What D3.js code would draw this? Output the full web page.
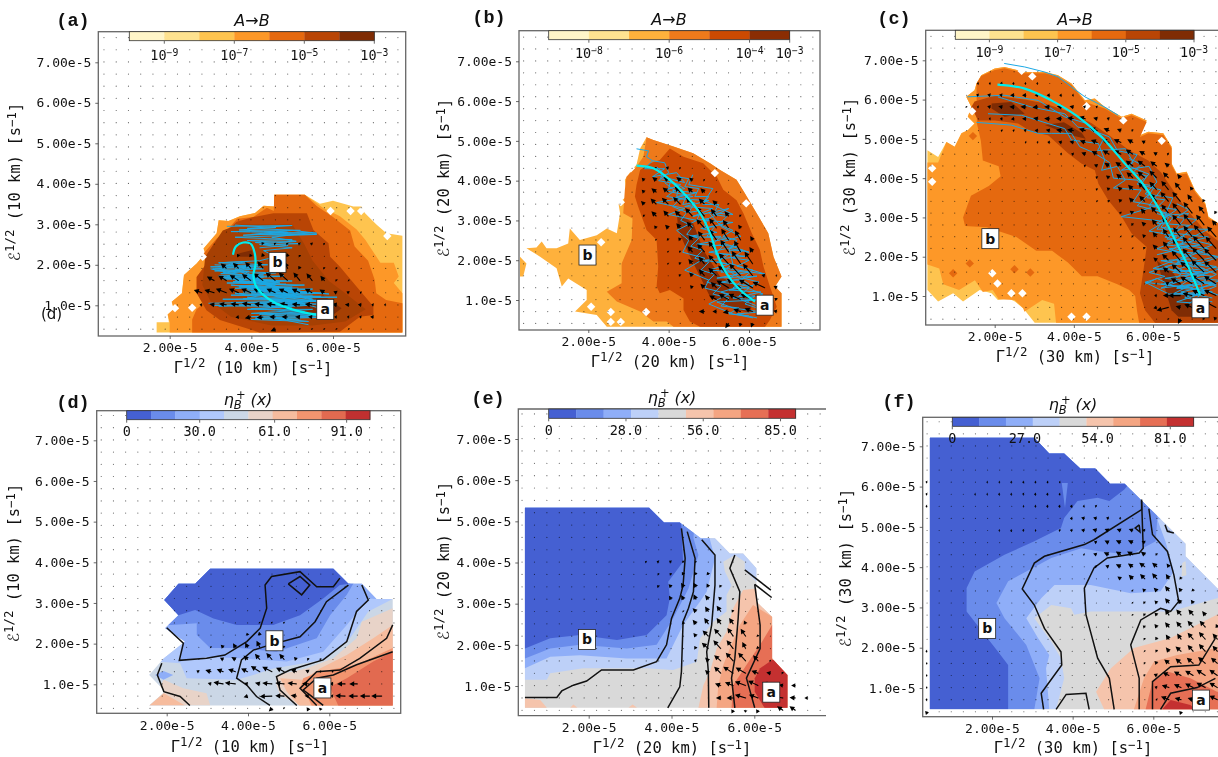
<!DOCTYPE html>
<html>
<head>
<meta charset="utf-8">
<script src="https://cdn.jsdelivr.net/npm/d3@7"></script>
<style>
html, body { margin: 0; background: #fff; overflow: hidden; }
svg { display: block; filter: blur(0.35px); }
text { font-family: "DejaVu Sans Mono", monospace; fill: #111; }
</style>
</head>
<body>
<script>
// all gamma / epsilon values are in units of 1e-5 s^-1
var xTicks = [2, 4, 6];
var xTickLabels = ['2.00e-5', '4.00e-5', '6.00e-5'];
var yTicks = [1, 2, 3, 4, 5, 6, 7];
var yTickLabels = ['1.0e-5', '2.00e-5', '3.00e-5', '4.00e-5', '5.00e-5', '6.00e-5', '7.00e-5'];

// quiver lattice
var gridGamma = [0.39,0.69,0.99,1.29,1.59,1.89,2.19,2.49,2.79,3.09,3.39,3.69,3.99,4.29,4.59,4.89,5.19,5.49,5.79,6.09,6.39,6.69,6.99,7.29,7.59];
var gridEps = [0.41,0.71,1.01,1.31,1.61,1.91,2.21,2.51,2.81,3.11,3.41,3.71,4.01,4.31,4.61,4.91,5.21,5.51,5.81,6.11,6.41,6.71,7.01,7.31,7.61];

var colorsRateA = ['#fff5c8', '#fee28f', '#fec44f', '#fd9828', '#e5690f', '#b94505', '#7f2c04'];
var colorsRateB = ['#fff5c8', '#fee391', '#feb13c', '#ee7a1b', '#cc4a02', '#8a2d03'];
var colorsEtaD = ['#4560d2', '#6a8ceb', '#8faef8', '#b0c8fc', '#cbd7e6', '#e8d3c8', '#f6bc9e', '#f3956f', '#e26a50', '#c03030'];
var colorsEtaE = ['#4560d2', '#6a8ceb', '#8faef8', '#bdd0f8', '#d9d9d9', '#f5c4ac', '#f4a582', '#e66f55', '#c43030'];
// panel (a) shows one more shade inside the core than its bar lists
var fillsA = colorsRateA.concat('#a64003');

// filled bands, painted in order: [colour index, polygon]
var bandsA = [
  [2, [[1.68,.33],[1.68,.58],[1.98,.58],[1.95,.77],[2.1,.91],[2.05,1.09],[2.3,1.3],[2.35,1.75],[2.66,2.03],[2.87,2.28],[2.83,2.4],[3.15,2.78],[3.2,3.1],[3.44,3.08],[3.72,3.2],[4.09,3.28],[4.3,3.46],[4.56,3.44],[4.56,3.73],[5.31,3.73],[5.68,3.51],[6,3.58],[6.5,3.44],[6.7,3.44],[6.78,3.28],[7.07,2.99],[7.31,2.78],[7.7,2.72],[7.7,.33]]],
  [3, [[2,.33],[2,.58],[1.95,.77],[2.1,.91],[2.05,1.09],[2.3,1.3],[2.35,1.75],[2.66,2.03],[2.87,2.28],[2.83,2.4],[3.15,2.78],[3.2,3.1],[3.44,3.08],[3.72,3.2],[4.09,3.28],[4.3,3.46],[4.56,3.44],[4.56,3.73],[5.31,3.73],[5.76,3.4],[6.17,3.2],[6.58,2.87],[6.79,2.62],[7,2.3],[7.16,2.05],[7.49,2.05],[7.61,1.71],[7.49,1.55],[7.7,1.3],[7.7,.33]]],
  [4, [[2.55,.33],[2.55,.65],[2.66,.9],[2.87,1.09],[2.66,1.3],[2.66,1.7],[2.9,2.03],[2.83,2.28],[3.15,2.65],[3.4,2.85],[3.65,3.14],[4.05,3.18],[4.38,3.41],[4.55,3.33],[4.56,3.73],[5.31,3.73],[5.6,3.45],[6,3.18],[6.42,2.85],[6.53,2.45],[6.86,2.1],[7.02,1.63],[7.06,1.3],[7.3,1.13],[7.7,1.05],[7.7,.33]]],
  [5, [[3.64,3.06],[4.05,3.18],[4.54,3.27],[5.36,3.27],[5.52,2.86],[5.89,2.53],[5.93,2.2],[6.17,1.95],[6.58,1.46],[6.99,.97],[6.99,.76],[6.66,.72],[6.17,.35],[4.2,.33],[3.23,.64],[2.9,.88],[2.66,1.3],[2.66,1.7],[3,2.16],[3.23,2.65]]],
  [7, [[2.87,2.2],[3.3,2.85],[3.7,3],[5,3],[5.3,2.5],[5.5,2.1],[5.9,1.6],[6.3,1.3],[6.8,.9],[6.3,.6],[5.5,.5],[4.5,.5],[3.5,.72],[3,1.1],[2.8,1.5]]],
  [6, [[4.54,.84],[5.19,1.09],[5.76,1.25],[6.21,.93],[6,.76],[5.03,.72]]],
  [6, [[3.68,2.28],[4.01,2.36],[4.05,2.2],[3.72,2.2]]]
];
var bandsB = [
  [2, [[2.46,.33],[2.21,.62],[1.67,.71],[1.96,1],[1.96,1.25],[1.5,1.54],[1.34,1.34],[1.21,1.8],[.8,2.09],[.46,2.3],[.71,2.32],[.84,2.47],[.96,2.3],[1.21,2.3],[1.5,2.42],[1.54,2.8],[1.79,2.51],[2.21,2.63],[2.46,2.8],[2.71,2.68],[2.79,3.18],[2.75,3.43],[2.95,3.6],[2.91,4.02],[3.08,4.27],[3.2,4.4],[3.29,4.81],[3.45,5.09],[3.62,5.02],[4.12,4.86],[4.61,4.69],[5.03,4.44],[5.28,4.27],[5.69,4.02],[5.9,3.68],[6.19,3.18],[6.48,2.68],[6.61,2.09],[6.81,1.59],[6.65,1.34],[6.81,1.17],[6.81,.33]]],
  [2, [[.3,2.09],[.46,1.92],[.38,1.59],[.3,1.59]]],
  [3, [[4.12,.33],[3.95,.46],[3.62,.46],[3.29,.71],[2.71,.96],[2.46,1.21],[2.83,1.42],[2.83,1.92],[3.08,2.51],[3.1,3.05],[2.87,3.18],[2.91,3.77],[2.95,4.1],[3.2,4.35],[3.37,4.6],[3.45,5.09],[3.62,5.02],[4.12,4.86],[4.61,4.69],[5.03,4.44],[5.28,4.27],[5.69,4.02],[5.9,3.68],[6.19,3.18],[6.48,2.68],[6.61,2.09],[6.81,1.59],[6.65,1.34],[6.81,1.17],[6.81,.33]]],
  [4, [[4.78,.33],[4.53,.46],[4.37,.75],[4.37,1.04],[4.03,1.25],[3.78,1.17],[3.7,1.34],[3.74,1.84],[3.7,2.51],[3.45,2.76],[3.24,3.35],[3.16,3.6],[3.2,3.89],[3.29,4.27],[3.54,4.44],[3.78,4.52],[4.03,4.81],[4.37,4.6],[4.86,4.44],[5.2,4.1],[5.36,3.77],[5.69,3.51],[5.86,3.18],[6.07,2.68],[6.27,2.26],[6.36,1.84],[6.52,1.34],[6.61,1.08],[6.69,.83],[6.52,.5],[6.4,.33]]],
  [5, [[4.2,3.22],[4.61,2.93],[4.86,2.26],[5.28,1.59],[5.78,1.33],[6.11,1.08],[6.03,.67],[5.45,.83],[5.03,1.08],[4.74,1.67],[4.45,2.26],[4.24,2.76]]]
];
var bandsC = [
  [2, [[.3,1.15],[.57,.86],[.95,1.07],[1.2,.86],[1.62,1.15],[1.92,1.07],[2.08,.9],[2.34,.94],[2.51,.86],[2.72,.69],[3.01,.32],[7.9,.32],[7.9,2.7],[7.65,2.85],[7.4,3.02],[7.32,3.36],[7.06,3.69],[6.85,4.16],[6.6,4.12],[6.47,4.37],[6.47,4.8],[6.26,5.14],[5.88,5.18],[5.67,5.09],[5.84,5.47],[5.46,5.64],[5.21,5.56],[4.78,5.81],[4.53,6.03],[4.28,5.98],[3.94,6.41],[3.6,6.62],[3.27,6.7],[2.76,6.7],[2.25,6.83],[2,6.79],[1.66,6.62],[1.54,6.41],[1.49,6.24],[1.28,6.07],[1.41,5.81],[1.32,5.56],[1.49,5.39],[1.32,5.22],[1.16,5.14],[.99,4.8],[.78,4.92],[.57,4.54],[.3,4.71]]],
  [3, [[.3,1.8],[.6,1.7],[.7,1.3],[1.1,1.15],[1.5,1.4],[1.7,1.1],[1.95,1.15],[2.1,.92],[2.5,.9],[2.72,.69],[2.75,.6],[3.2,.9],[3.5,.8],[3.55,.32],[7.9,.32],[7.9,2.7],[7.65,2.85],[7.4,3.02],[7.32,3.36],[7.06,3.69],[6.85,4.16],[6.6,4.12],[6.47,4.37],[6.47,4.8],[6.26,5.14],[5.88,5.18],[5.67,5.09],[5.84,5.47],[5.46,5.64],[5.21,5.56],[4.78,5.81],[4.53,6.03],[4.28,5.98],[3.94,6.41],[3.6,6.62],[3.27,6.7],[2.76,6.7],[2.25,6.83],[2,6.79],[1.66,6.62],[1.54,6.41],[1.49,6.24],[1.28,6.07],[1.41,5.81],[1.32,5.56],[1.49,5.39],[1.32,5.22],[1.16,5.14],[.99,4.8],[.78,4.92],[.57,4.4],[.3,4.4]]],
  [4, [[5.65,.32],[5.6,.6],[5.55,1],[5.4,1.15],[5.1,1.3],[4.6,1.5],[4.2,1.5],[3.85,1.85],[3.45,2.15],[3.05,2.15],[2.55,2.5],[1.8,2.75],[1.25,2.78],[1.2,3],[1.4,3.55],[1.85,3.8],[2.15,4.05],[2.1,4.3],[1.7,4.45],[1.65,4.95],[1.55,5.4],[1.54,6.41],[1.66,6.6],[2,6.75],[2.25,6.8],[2.76,6.67],[3.27,6.67],[3.6,6.58],[3.94,6.37],[4.28,5.94],[4.78,5.77],[5.21,5.52],[5.46,5.6],[5.84,5.43],[5.67,5.05],[5.88,5.14],[6.26,5.1],[6.47,4.76],[6.47,4.33],[6.6,4.08],[6.85,4.12],[7.06,3.65],[7.32,3.32],[7.4,2.98],[7.9,2.7],[7.9,.32]]],
  [5, [[1.49,5.95],[2,6.1],[2.76,6],[3.27,5.9],[3.77,5.73],[4.45,5.4],[4.95,5.05],[5.38,4.72],[5.88,4.45],[6.2,4.15],[6.47,3.75],[6.81,3.25],[7.32,2.65],[7.65,2.4],[7.9,2.2],[7.9,.32],[6.05,.32],[5.8,.64],[5.67,1.07],[5.76,1.66],[5.84,2.25],[5.46,2.59],[5.21,3.02],[4.87,3.44],[4.62,3.86],[4.53,4.2],[4.19,4.37],[3.86,4.63],[3.35,5.09],[2.93,5.18],[2.59,5.39],[2,5.47],[1.58,5.47],[1.41,5.81]]],
  [6, [[6.39,.9],[6.1,1.9],[6.5,1.6],[6.89,1.07],[7.15,.47],[6.64,.47],[6.47,.64]]],
  [6, [[3.27,5.35],[3.75,5.42],[4.2,5.15],[4.3,5],[3.9,5.1]]],
  [6, [[1.92,5.9],[2.42,5.94],[2.76,5.64],[2.25,5.56],[1.92,5.77]]]
];
var bandsD = [
  [4, [[1,.2],[1,4.2],[8,4.2],[8,.2]]],
  [5, [[1.93,1.11],[2.41,.9],[2.98,.78],[3.07,.48],[1.5,.48]]],
  [6, [[1.57,.48],[1.93,.78],[2.45,.48]]],
  [3, [[1.57,1.23],[1.75,1.56],[2.33,1.52],[2.49,1.15],[3.72,1.11],[4.13,1.23],[4.62,1.39],[5.85,1.6],[6.51,2.13],[6.96,2.79],[7.56,3.1],[7.7,3.2],[7.7,4],[1.4,4],[1.4,1.23]]],
  [2, [[1.96,2.38],[2.41,2.01],[2.33,1.56],[2.98,1.68],[3.8,1.64],[4.95,1.56],[5.85,1.8],[6.43,2.46],[6.96,3.11],[7.16,3.1],[7.2,4],[1.5,4],[1.5,2.38]]],
  [1, [[2.12,2.46],[2.74,2.5],[2.74,2.21],[3.07,1.89],[3.8,1.89],[4.7,1.8],[5.69,2.13],[6.02,2.7],[6.43,3.2],[6.59,3.47],[7,4],[1.5,4],[1.5,2.46]]],
  [0, [[2.29,2.7],[2.7,2.83],[3.15,2.62],[3.72,2.46],[4.62,2.46],[5.28,2.7],[5.85,3.11],[6.26,3.44],[6.51,3.47],[6.8,4],[1.5,4],[1.5,2.7]]],
  [2, [[1.71,1.23],[1.92,1.33],[2.16,1.23],[1.92,1.11]]],
  [5, [[4.7,1.23],[5.44,1.39],[6.1,1.64],[6.67,2.13],[6.8,2.54],[7.56,2.87],[7.7,2.9],[7.7,.3],[4.9,.3],[5.28,.48],[4.79,.74],[4.7,.98]]],
  [6, [[4.79,1.15],[5.36,1.11],[5.77,1.39],[6.43,1.72],[7.08,2.13],[7.56,2.46],[7.7,2.5],[7.7,.3],[5.4,.3],[4.95,.82]]],
  [7, [[5.28,.9],[5.36,1.15],[5.77,1.31],[6.67,1.48],[7.56,1.89],[7.7,1.95],[7.7,.3],[5.65,.3],[5.44,.74]]],
  [8, [[6.02,.94],[6.43,1.15],[7.08,1.56],[7.56,1.8],[7.7,1.85],[7.7,.3],[6.3,.3],[6.1,.74]]]
];
var bandsE = [
  [4, [[.2,.2],[.2,5.6],[7.2,5.6],[7.2,.2]]],
  [3, [[.46,1.15],[.99,1.15],[1.07,1.31],[1.87,1.43],[3.4,1.43],[4.04,1.39],[4.61,1.59],[4.69,2.16],[5.01,2.56],[5.33,2.81],[5.33,3.21],[5.45,3.45],[5.29,3.78],[5.25,4.02],[5.53,4.18],[5.77,4.02],[5.77,3.82],[6.05,3.53],[6.3,3.53],[6.3,5.6],[.3,5.6],[.3,1.15]]],
  [2, [[.46,1.43],[1.07,1.71],[1.79,1.75],[2.92,1.67],[3.88,1.67],[4.28,2.48],[4.69,3.05],[4.85,3.29],[5.05,4.1],[4.93,4.55],[4.9,5.6],[.3,5.6],[.3,1.43]]],
  [1, [[.46,1.67],[1.07,1.91],[1.79,2],[2.92,1.91],[3.64,2],[4.04,2.64],[4.41,3.37],[4.65,4.18],[4.53,4.59],[4.6,5.6],[.3,5.6],[.3,1.67]]],
  [0, [[.46,1.91],[1.07,2.16],[1.79,2.24],[2.68,2.12],[3.4,2.24],[3.88,2.72],[3.96,3.13],[3.92,3.53],[4.28,4.02],[4.24,4.87],[4.2,5.07],[4.2,5.6],[.3,5.6],[.3,1.91]]],
  [5, [[.46,.7],[.83,.66],[.99,.47],[.3,.3],[.3,.7]]],
  [5, [[1.55,.47],[1.63,.55],[1.73,.47]]],
  [5, [[2.96,.47],[3.06,.55],[3.17,.47]]],
  [5, [[4.65,.47],[4.77,1.02],[4.93,1.35],[5.09,1.91],[5.33,2.32],[5.49,2.89],[5.73,3.33],[6.05,3.37],[7,3.37],[7,.3],[4.65,.3]]],
  [6, [[5.09,.47],[5.13,1.02],[5.25,1.51],[5.41,1.91],[5.65,2.48],[5.97,2.97],[6.43,2.68],[7,2.68],[7,.3],[5.09,.3]]],
  [7, [[5.45,.47],[5.49,1.02],[5.81,1.51],[6.14,2],[6.43,2.48],[7,2.48],[7,.3],[5.45,.3]]],
  [8, [[6.01,1.19],[6.14,1.43],[6.43,1.63],[7,1.63],[7,.3],[6.35,.3],[6.01,.86]]]
];
var bandsF = [
  [4, [[.2,.2],[.2,7.5],[8,7.5],[8,.2]]],
  [3, [[3.59,.47],[3.79,1.24],[3.71,1.74],[3.47,2.15],[3.05,2.73],[3.47,3.06],[3.96,2.98],[4.04,2.82],[4.45,2.9],[5.44,2.9],[6.43,2.9],[7.58,3.23],[7.9,3.4],[7.9,7.5],[.3,7.5],[.3,.47]]],
  [4, [[6.7,3.77],[6.72,4.1],[6.8,4.15],[6.82,3.8]]],
  [2, [[3.42,.47],[3.34,1.49],[3.42,1.82],[3.14,2.24],[2.85,2.73],[3.22,3.23],[3.55,3.56],[4.45,3.56],[5.44,3.35],[6.18,3.4],[6.51,3.89],[6.3,4.64],[6.1,5.18],[6.3,5.2],[6.3,7.5],[.3,7.5],[.3,.47]]],
  [1, [[3.05,.47],[3.18,1.24],[2.85,2.07],[2.31,2.73],[2.11,3.11],[2.4,3.65],[3.47,4.23],[4.21,4.47],[4.7,4.39],[5.44,4.31],[6.06,4.64],[6.1,5.22],[6.1,7.5],[.3,7.5],[.3,.47]]],
  [0, [[2.4,.47],[2.4,1.57],[2.15,1.9],[1.37,2.9],[1.37,3.48],[1.57,3.89],[2.31,4.31],[3.05,4.64],[3.71,4.97],[3.79,5.22],[4.12,5.64],[4.62,5.72],[4.91,5.64],[5.28,5.93],[5.4,6.07],[5.4,7.5],[.3,7.5],[.3,.47]]],
  [1, [[3.73,6.09],[3.88,6.09],[3.81,5.47]]],
  [5, [[4.58,.91],[4.95,1.49],[5.52,1.99],[6.43,2.24],[7.58,2.82],[7.9,2.9],[7.9,.3],[4.7,.3],[4.78,.47]]],
  [6, [[5.52,.47],[5.77,1.24],[6.02,1.66],[6.59,1.82],[7.58,1.99],[7.9,2],[7.9,.3],[5.52,.3]]],
  [7, [[5.81,.47],[5.98,1.16],[6.35,1.41],[6.92,1.24],[7.58,.91],[7.9,.85],[7.9,.3],[5.81,.3]]],
  [8, [[6.22,.47],[6.43,.7],[6.92,.58],[7.05,.47],[7.05,.3],[6.22,.3]]]
];

// outline of the region that has eta values
var hullD = [[1.57,.48],[1.96,.82],[1.57,1.23],[1.93,1.64],[2.45,2.05],[1.96,2.38],[2.29,2.7],[1.94,3.07],[2.29,3.47],[2.7,3.47],[3.07,3.84],[6.1,3.84],[6.47,3.47],[6.8,3.47],[7.16,3.1],[7.56,3.1],[7.56,.48]];
var hullE = [[.46,.47],[.46,5.33],[3.46,5.33],[3.82,4.97],[4.2,4.97],[4.71,4.59],[5.05,4.59],[5.41,4.22],[5.73,4.22],[6.05,3.86],[6.05,3.05],[6.43,2.68],[6.43,1.67],[6.8,1.27],[6.8,.47]];
var hullF = [[.46,.47],[.46,7.21],[3.05,7.21],[3.42,6.82],[3.79,6.82],[4.19,6.45],[4.56,6.45],[4.93,6.07],[5.29,6.07],[6.8,4.58],[6.8,4.27],[7.58,3.48],[7.9,3.26],[7.9,.47]];

// black contour lines
var linesD = [
  [[2,2.39],[2.41,2.01],[2.31,1.59],[2.98,1.64],[3.43,1.72],[3.97,2.05],[4.3,2.38],[4.46,2.87],[4.42,3.44],[4.58,3.65],[5.28,3.77],[5.69,3.4],[6.1,3.4],[6.26,3.61]],
  [[4.99,3.47],[5.28,3.65],[5.52,3.44],[5.32,3.2],[4.99,3.47]],
  [[6.47,3.44],[5.93,3.03],[5.65,2.54],[5.28,2.17],[4.54,1.97],[4.13,1.84],[3.84,1.6],[3.72,1.15],[3.97,.98],[4.21,.7],[4.54,.48]],
  [[6.8,3.44],[6.96,3.07],[6.67,2.79],[6.43,2.05],[5.85,1.6],[5.03,1.35],[4.7,1.19],[4.79,.86],[5.2,.48]],
  [[1.88,1.52],[1.77,1.23],[1.93,.82],[2.33,.7],[2.57,.48]],
  [[7.56,2.46],[7.41,2.13],[6.75,1.64],[6.26,1.35],[5.69,1.31],[5.28,.9],[5.69,.48]],
  [[7.56,1.8],[6.67,1.48],[6.1,1.23],[5.69,1.15],[5.36,.86],[5.52,.74],[5.85,.48]]
];
var linesE = [
  [[.46,.72],[1.23,.72],[1.35,.88],[1.63,1.02],[1.95,1.12],[2.31,1.39],[3.08,1.39],[3.64,1.59],[3.88,2],[4,2.64],[4.2,3.13],[4.28,3.45],[4.33,4.1],[4.24,4.83]],
  [[3.91,.47],[4.2,.98],[4.24,1.35],[4.28,2.56],[4.41,2.89],[4.53,3.29],[4.57,4.1],[4.38,4.75]],
  [[4.73,4.55],[5.05,4.18],[5.05,3.45],[4.97,2.48],[4.85,1.83],[4.89,1.35],[4.9,.47]],
  [[5.53,4.18],[5.41,3.86],[5.65,3.29],[5.61,2.64],[5.53,1.67],[5.45,1.19],[5.53,.47]],
  [[6.01,3.47],[6.14,2.48],[6.14,1.91],[5.81,1.19],[6.01,.47]],
  [[5.77,3.82],[6.4,3.33]],
  [[6.01,3.47],[6.42,3.15]]
];
var linesF = [
  [[5.71,5.68],[5.71,5.43],[4.53,4.68],[4.29,4.56],[3.3,4.27],[3.05,4.1],[2.75,3.46],[3.05,3.06],[3.3,2.48],[3.71,1.9],[3.73,1.57],[3.22,.87],[3.28,.47]],
  [[5.71,5.65],[5.75,4.47],[5.65,4.35],[4.86,4.23],[4.53,3.98],[4.29,3.48],[4.33,2.82],[4.62,1.74],[4.91,1.24],[5.03,.47]],
  [[5.89,5.45],[5.98,4.81],[6.35,4.39],[6.51,3.81],[6.63,3.15],[6.43,2.9],[6.18,2.98],[5.69,2.69],[5.44,2.07],[5.65,1.24],[5.65,.47]],
  [[3.59,.47],[3.84,.84],[4.33,.87],[4.41,.47]],
  [[5.98,.47],[5.98,1.16],[6.43,1.53],[7.13,1.57],[7.54,2.24]],
  [[6.18,.47],[6.43,.87],[7.09,1.01],[7.54,1.24]],
  [[5.65,5.05],[5.55,4.97],[5.67,4.87],[5.65,5.05]],
  [[6.29,5.05],[6.35,4.89],[6.51,4.85]]
];

// thin sampled paths
var pathsA = [
  [[3.4,2.95],[5,2.97],[3.9,2.9],[5.2,2.85],[3.5,2.82],[5.6,2.78],[5,2.85],[4,2.75],[5.6,2.75],[3.6,2.68],[5,2.62],[3.9,2.6],[5.2,2.52],[4.2,2.5],[5,2.42],[4.3,2.35],[4.6,2.2],[4.2,2.1],[3.2,2.05],[4.4,2],[3,1.95],[4.3,1.9],[3.1,1.85],[4.6,1.8],[3.2,1.72],[4.8,1.72],[3.3,1.65],[5,1.6],[3.4,1.55],[5.3,1.5],[3.6,1.42],[5.5,1.4],[3.8,1.33],[5.8,1.3],[3.5,1.25],[6.1,1.2],[3.3,1.15],[5.9,1.1]],
  [[2.95,1.05],[5.6,1.1],[3.2,.98],[5.4,1],[3.9,.9],[5.5,.9],[4,.8],[5.8,.8],[4,.72],[5.6,.7],[4,.65],[5.4,.6],[4.6,.68],[5.4,.52]],
  [[3,1.9],[4.7,1.55],[3.3,1.7],[5.2,1.35],[3.5,1.5],[5.9,1.28],[4,1.4],[5.2,1.2],[3.6,1.3],[4.8,1.1],[3.9,1.2],[5.4,1.05],[4.2,1.05]],
  [[3.1,2],[4,1.95],[3.3,1.8],[4.3,1.7],[3.6,1.6],[4.6,1.55],[3.7,1.45],[5,1.45],[4,1.3],[5.5,1.25]],
  [[3.2,2.05],[3.9,2.08],[3.3,1.98],[4.2,1.95],[3.05,1.9],[3.95,1.84],[3.25,1.78],[4.3,1.75],[3.4,1.7],[4.55,1.62],[3.55,1.58],[4.85,1.52],[3.7,1.48],[5.15,1.42],[3.9,1.38],[5.45,1.33],[4.1,1.26],[5.7,1.22],[3.8,1.16],[5.95,1.12],[3.5,1.07],[5.6,1.03],[3.1,1],[5,.96],[4,.92],[5.3,.84],[4.2,.78],[5.7,.74],[4.1,.68],[5.2,.64]],
  [[3.5,2.02],[4.35,1.55],[3.6,1.9],[4.8,1.35],[3.8,1.75],[5.1,1.3],[4.05,1.6],[5.5,1.15],[4.3,1.4],[5.85,1.05],[4.5,1.25],[5.6,.95]],
  [[3.6,2.98],[4.6,2.92],[3.7,2.86],[4.9,2.8],[3.8,2.73],[5.5,2.8],[4.5,2.68],[5.1,2.58],[4.1,2.55],[4.9,2.48],[4.2,2.42]]
];
var pathsB = [
  [[3.2,4.8],[3.5,4.75],[3.45,4.6],[3.6,4.5],[3.4,4.3],[3.9,4.3],[3.6,4.1],[4.2,4.2],[4.4,3.95],[3.85,4.1],[4.4,3.8],[4.1,3.75],[4.7,3.7],[4.1,3.55],[5,3.5],[4.4,3.35],[5.1,3.3],[4.6,3.1],[5.5,3.3],[4.9,3],[5.6,2.95],[4.8,2.8],[5.2,2.7],[4.5,2.6],[5.5,2.55],[4.7,2.4],[5.7,2.35],[5,2.2],[5.9,2.1],[4.9,2],[5.5,1.9],[5,1.75],[6,1.7],[5.2,1.55],[6.2,1.6],[5.3,1.45],[6.1,1.35],[5.5,1.25],[6.3,1.2],[5.6,1.05],[6.2,1],[5.2,.95],[5.6,.8],[6.3,.7],[5.7,.65],[6.2,.55]],
  [[3.6,4.5],[3.9,4.45],[4,4.2],[3.75,4],[4.3,3.9],[3.9,3.75],[4.6,3.6],[3.7,3.45],[4.4,3.3],[4,3.15],[4.7,3],[4.2,2.75],[4.5,2.5],[4.35,2.2],[4.9,2.05],[4.4,1.75],[5,1.5],[4.9,1.3],[5.5,1.15],[5,.9],[5.6,.65],[6.1,.55]],
  [[4.6,4.15],[4.5,3.9],[5.1,3.8],[4.9,3.5],[5.6,3.15],[5,3.2],[5.3,2.85],[5.8,2.6],[5.3,2.45],[6,2.2],[5.5,2.3],[5.6,1.9],[6.4,1.65],[5.4,1.8],[6,1.4],[5.3,1.2],[6.2,.85]],
  [[3.7,4.35],[3.85,4.2],[3.8,4.05],[4.05,4],[4,3.8],[4.25,3.85],[4.2,3.6],[4.45,3.65],[4.35,3.4],[4.65,3.45],[4.5,3.2],[4.8,3.25],[4.7,3],[5,3.05],[4.85,2.8],[5.15,2.85],[4.95,2.6],[5.3,2.6],[5.05,2.35],[5.4,2.4],[5.15,2.15],[5.5,2.15],[5.2,1.95],[5.6,1.9],[5.3,1.7],[5.75,1.7],[5.45,1.5],[5.85,1.5],[5.6,1.3],[6,1.3],[5.75,1.1],[6.15,1.1],[5.9,.9],[6.2,.8]],
  [[4.2,4.1],[4.5,4.05],[4.4,3.85],[4.75,3.8],[4.65,3.6],[5,3.6],[4.85,3.4],[5.25,3.4],[5.1,3.15],[5.45,3.1],[5.25,2.9],[5.6,2.75],[5.35,2.6],[5.7,2.5],[5.5,2.25],[5.85,2.25],[5.6,2.05],[6,2],[5.7,1.85],[6.1,1.75],[5.85,1.55],[6.25,1.45],[5.95,1.3],[6.35,1.15],[6,1.05]],
  [[3.9,3.95],[4.15,3.75],[3.95,3.6],[4.3,3.55],[4.1,3.35],[4.45,3.2],[4.3,3],[4.6,2.85],[4.45,2.65],[4.75,2.55],[4.55,2.35],[4.85,2.25],[4.65,2.05],[5,1.95],[4.8,1.75],[5.15,1.65],[4.95,1.45],[5.3,1.35],[5.1,1.15],[5.5,1.05],[5.3,.85],[5.75,.8],[5.5,.65],[6,.6]]
];
var pathsC = [
  [[2.24,6.92],[2.76,6.83],[3.27,6.7],[3.6,6.58],[3.94,6.32],[4.28,6.07],[4.78,5.81],[5.12,5.6]],
  [[1.31,6.07],[2.25,6.11],[3.1,5.98],[3.77,5.56],[4.3,5.4],[4.5,5.2],[4.9,5.05],[5.1,4.7],[5.6,4.6],[5.4,4.3],[5.9,4.1],[5.6,3.85],[6.2,3.7],[5.9,3.3],[6.6,3.2],[6.1,2.85],[6.9,2.8],[6.3,2.5],[7.2,2.3],[6.4,2.2],[7.1,1.95],[6.2,1.9],[7.3,1.7],[6.5,1.6],[7.5,1.5],[6.2,1.3],[7,1.2],[5.8,1.35],[6.4,1.05],[7.2,1.05],[6.6,.85],[7.4,.8]],
  [[1.83,5.64],[2.68,5.6],[3.35,5.39],[3.77,5.26],[3.94,4.97],[4.62,4.88],[4.78,4.46],[4.7,4.2],[5.1,4.3],[5.3,3.95],[5,3.75],[5.7,3.7],[5.5,3.4],[6.1,3.3],[5.2,3.02],[6.3,2.9],[5.9,2.65],[6.8,2.5],[6.1,2.2],[6.9,2.05],[6,1.7],[7.3,1.6],[6.3,1.45],[7.6,1.3],[6.7,1.1],[7.5,.95]],
  [[1.54,5.42],[2.42,5.35],[3.1,5.14],[3.43,5.14],[3.94,5.14],[4.15,4.8],[4.5,4.65],[4.9,4.4],[5,4],[5.6,3.95],[5.9,3.6],[5.6,3.3],[6.4,3.1],[6.1,2.7],[7,2.7],[6.5,2.35],[7.4,2.2],[6.6,1.9],[7.6,1.75],[6.8,1.5],[7.6,1.25],[7,1]],
  [[2.08,6.07],[2.93,5.81],[3.77,5.64],[4.1,5.3],[4.4,5.25],[4.75,5],[4.6,4.7],[5.3,4.75],[5.5,4.4],[5.2,4.2],[5.9,4.3],[6.1,3.9],[5.8,3.6],[6.5,3.5],[6.3,3.05],[6.9,3.1],[6.5,2.6],[7.4,2.5],[6.6,2.3],[7.6,2],[6.9,1.85],[7.6,1.55],[6.95,1.2],[7.5,1.1],[6.8,1]],
  [[5.8,1.35],[6.3,1.5],[5.9,1.6],[6.5,1.8],[7,1.5],[6.2,1.2],[7,1.3],[6.5,1.05],[7.3,1.1],[6.9,.8]],
  [[6.1,3.1],[6.4,3],[6.2,2.75],[6.6,2.7],[6.35,2.45],[6.8,2.4],[6.45,2.15],[7,2.1],[6.6,1.85],[7.2,1.85],[6.5,1.65],[7.4,1.6],[6.7,1.4],[7.5,1.35],[6.6,1.2],[7.3,1.15],[6.8,.95],[7.5,.85]],
  [[6.6,3.35],[6.9,3.2],[6.6,3],[7.1,2.95],[6.8,2.7],[7.4,2.7],[6.9,2.45],[7.5,2.3],[7,2.1],[7.7,2],[7.1,1.8],[7.7,1.7],[7,1.45],[7.7,1.4],[7.2,1.2],[7.7,1]],
  [[5.4,4.5],[5.7,4.35],[5.5,4.15],[5.85,4.05],[5.7,3.85],[6.05,3.8],[5.85,3.5],[6.3,3.45],[6.05,3.2],[6.5,3],[6.2,2.6],[6.6,2.5],[6.3,2.3],[6.9,2.25],[6.1,2.05]],
  [[5.8,1.3],[6.1,1.45],[6.4,1.3],[6.7,1.55],[6.3,1.75],[6.9,1.85],[7.1,1.55],[6.6,1.2],[7.2,1.35],[7.3,1.05],[6.7,1.05]]
];
// thick mean path
var meanA = [[3.55,2.25],[3.62,2.45],[3.8,2.55],[3.98,2.52],[4.08,2.3],[4.1,2],[4.05,1.75],[4.1,1.5],[4.3,1.25],[4.6,1.05],[5,.9],[5.4,.8],[5.75,.74]];
var meanB = [[3.2,4.38],[3.62,4.31],[4.03,4.02],[4.45,3.6],[4.78,3.18],[5.03,2.68],[5.2,2.17],[5.44,1.67],[5.78,1.25],[6.15,.96]];
var meanC = [[2.07,6.38],[2.76,6.28],[3.43,5.98],[4.11,5.56],[4.7,5.05],[5.29,4.37],[5.8,3.78],[6.22,3.1],[6.56,2.42],[6.89,1.75],[7.19,1.03]];

// holes in the sampled region
var holesA = [[2.55,.94],[2.81,2.2],[5.94,3.33],[6.43,3.33],[6.69,3.33],[7.33,2.71],[2.13,.93]];
var holesB = [[2.32,2.45],[2.81,3.46],[2.07,.83],[2.56,.7],[2.81,.45],[2.56,.45],[3.44,.7],[3.06,4.31],[5.15,4.19],[5.93,3.43]];
var holesC = [[.42,4.25],[.42,3.91],[1.43,5.7],[1.94,1.58],[2.07,1.32],[2.42,1.07],[2.7,1.07],[3.94,.47],[4.32,.47],[6.22,4.95],[5.25,5.47],[2.95,6.59],[2.68,6.73],[4.32,5.83]];
var specksC = [[1.45,5.07],[2.17,4.97],[.95,1.58],[1.37,1.83],[2.5,1.68],[2.9,1.6]];

// quiver rows: [row, first column, u, v, u, v, ...] with u, v in 0.01e-5
var arrowsA = [
  [0,14,-12,-5,-1,1,-2,2,-2,2,-2,2,-2,2,-2,2],
  [1,11,-8,-1,-15,-3,-16,-2,-15,1,-15,1,-12,1,-10,1,-8,1,-6,1,-5,1,-5,1,-8,1],
  [2,8,-6,1,-12,2,-18,3,-20,3,-22,4,-22,3,-22,3,-20,3,-20,2,-18,2,-15,2,-12,2,-10,1,-8,1,-5,1,-4,1],
  [3,8,-20,7,-24,7,-26,10,-24,10,-24,10,-24,10,-22,10,-22,10,-20,10,-18,10,-12,8,-8,4,-6,3,-3,2],
  [4,9,-18,10,-20,12,-22,14,-22,16,-24,18,-24,20,-22,20,-16,20,-14,18,-10,12,-3,3,-2,2],
  [5,10,-14,12,-14,14,-14,16,-14,18,-14,20,-8,16,-4,6,0,0,-3,3,-3,2],
  [6,11,-4,6,-3,6,-3,8,-2,10,-2,8,-3,3],
  [7,11,-3,3,-4,5,-4,5,-4,3,-4,3,-5,3,-5,3,-3,2],
  [8,13,-2,1,-2,1,-2,1]
];
var arrowsB = [
  [0,17,-8,-12,-2,-8,-4,-10],
  [1,15,-14,0,-10,0,-14,-3,-18,6,-20,8,-20,6,-8,2],
  [2,16,-18,10,-24,14,-30,14,-30,14,-24,10,-6,4],
  [3,14,-6,6,-10,10,-14,14,-30,18,-34,22,-34,20,-30,14,-8,4],
  [4,13,-4,4,-8,8,-14,16,-20,20,-26,26,-28,30,-24,30,-8,2,-3,1],
  [5,12,-2,2,-4,4,-10,12,-14,18,-20,22,-24,26,-22,32,-20,30],
  [6,11,-1,1,-2,2,-3,3,-12,14,-18,20,-20,26,-20,30,-16,28,-8,12],
  [7,11,-2,2,-3,4,-5,6,-10,12,-16,22,-18,26,-18,28,-14,24,-6,10],
  [8,11,-5,6,-8,8,-10,12,-14,16,-20,22,-18,24,-14,20,-6,8],
  [9,10,-3,3,-12,12,-12,14,-14,14,-18,20,-20,22,-14,18,-10,12,-3,3],
  [10,10,-8,8,-14,14,-16,16,-18,18,-16,16,-14,14,-10,10,-2,2],
  [11,10,-6,6,-12,10,-14,12,-14,14,-12,12,-10,10,-2,2],
  [12,10,-6,6,-10,8,-12,8,-10,8,-8,6,-3,2],
  [13,10,-2,1,-4,2,-6,3,-3,2]
];
var arrowsC = [
  [0,20,-2,2,-6,-12,0,0,-4,4,-6,6],
  [1,19,-8,-2,-30,-8,-12,3,-20,8,-24,12,-28,14],
  [2,19,-6,0,-14,0,-30,0,-24,6,-30,14,-30,14],
  [3,18,-2,0,-3,1,-8,4,-24,14,-30,18,-32,22,-30,20],
  [4,18,-3,2,-6,5,-14,12,-22,20,-30,26,-32,30,-30,28],
  [5,17,-2,2,-4,3,-8,7,-16,16,-22,24,-24,30,-30,32,-30,30],
  [6,17,-2,2,-4,4,-10,10,-14,18,-20,24,-24,30,-28,32,-26,30],
  [7,16,-2,2,-3,3,-6,6,-10,12,-14,20,-18,24,-22,28,-26,30,-22,26],
  [8,16,-3,2,-4,4,-8,8,-12,14,-16,20,-20,26,-22,28,-20,26,-10,12],
  [9,15,-1,1,-4,3,-8,6,-10,12,-14,16,-18,22,-20,26,-22,28,-14,18,-4,6],
  [10,14,-2,2,-4,3,-6,6,-10,10,-14,14,-16,20,-20,24,-20,24,-12,18,-4,6],
  [11,14,-4,2,-6,5,-8,8,-12,12,-16,18,-18,20,-18,22,-14,18,-6,8],
  [12,13,-2,1,-4,3,-8,6,-12,10,-16,14,-18,16,-18,18,-14,14,-8,10],
  [13,13,-4,2,-8,4,-12,8,-14,10,-18,14,-18,14,-16,12,-10,8],
  [14,8,-2,0,-2,0,-2,1,-4,1,-6,2,-10,4,-14,8,-16,10,-18,10,-18,12,-14,8,-8,5,-4,2],
  [15,8,-3,1,-3,1,-6,1,-8,2,-10,2,-14,5,-16,6,-18,8,-18,8,-14,8,-8,4,-2,1],
  [16,6,-4,1,-4,1,-6,2,-8,1,-10,2,-14,2,-16,3,-16,5,-18,6,-14,6,-10,4,-4,2],
  [17,5,-4,0,-6,0,-8,-1,-10,0,-12,2,-14,1,-14,1,-16,3,-16,5,-10,3,-6,2],
  [18,3,-2,2,-4,1,-8,2,-10,2,-12,1,-14,1,-14,-1,-14,1,-12,2,-10,2,-6,2,-4,2],
  [19,4,-6,2,-8,2,-8,1,-10,0,-10,0,-8,0,-8,0,-6,0,-4,0],
  [20,4,-4,0,-4,0,-6,0,-5,0,-4,0,-4,0,-2,0]
];
var arrowsD = [
  [0,12,-1,1,-1,1,-8,-8,-2,2,-1,1,-4,-8,-2,-6,-1,1],
  [1,12,-10,-3,0,0,-30,-1,-22,1,-14,2,-10,1,0,0,-6,1,-24,1,-22,0,-24,0,-26,0],
  [2,9,-8,2,-24,4,-26,3,-8,2,-12,3,-24,2,-22,2,-22,2,-16,1,-18,2,-10,1,-20,0,-20,0,-2,1,-2,1,-2,1],
  [3,8,-6,3,-14,4,-16,6,-18,6,-16,8,-22,14,-24,12,-20,10,-14,6,-8,4,-3,1,-3,2,-2,1],
  [4,10,-8,4,-10,6,-10,10,-12,14,-14,16,-12,14,-6,6,-4,3,-3,2,-2,1],
  [5,9,-2,2,-6,6,-6,10,-6,12,-8,16,-6,10,-4,4,-1,1],
  [6,12,-2,6,-2,8,-2,8,-1,2],
  [7,13,-2,2,-2,2,-2,2],
  [8,11,-1,1,-1,1]
];
var arrowsE = [
  [0,17,-4,-8,-1,-6,-4,-8,0,0,-14,10,-14,10],
  [1,16,-12,0,-16,0,-26,8,-22,8,0,0,-22,4,-14,1,-8,0],
  [2,16,-14,5,-20,8,-26,10,-24,12,-20,8,-10,2,-10,0],
  [3,15,-8,8,-16,16,-24,16,-24,14,-16,6,-10,2,-3,3],
  [4,14,-4,2,-8,8,-16,14,-18,20,-18,20,-12,14,-2,2,-1,1],
  [5,14,-4,6,-16,14,-18,20,-16,20,-8,16,-2,6,-1,1],
  [6,14,-6,8,-14,14,-16,18,-14,20,-12,18,-2,4],
  [7,13,-2,6,-8,10,-10,14,-10,14,-10,14,-4,8,-1,2],
  [8,13,-2,2,-8,8,-8,12,-10,14,-4,4,-1,2],
  [9,12,-5,8,-6,10,-6,12,-8,10,-6,6,-2,2],
  [10,11,-4,4,-6,6,-6,10,-6,10,-4,8,-3,5],
  [11,10,-2,1,-3,2,-4,3,-4,6,-4,6,-3,6,-1,2],
  [12,9,-1,1,-3,2,-5,2,-5,3,-3,3,-2,2,-1,1],
  [13,10,-1,1,-2,0,-2,1,-1,1]
];
var arrowsF = [
  [0,0,-3,-8],[0,21,-3,-8],
  [1,0,-4,0],[2,0,-3,0],[3,0,-3,0],[4,0,-3,0],[5,0,-4,0],[6,0,-1,1],
  [1,19,-3,2,-20,8,-16,4,-14,4,-24,10,-20,10],
  [2,17,-1,1,-2,1,-6,2,-18,6,-18,8,-20,10,-22,12,-20,12],
  [3,18,-4,2,-8,4,-16,8,-18,10,-20,12,-22,14,-20,14],
  [4,18,-3,2,-6,6,-12,10,-14,12,-16,14,-18,16,-16,14],
  [5,18,-2,2,-4,4,-8,10,-14,12,-14,16,-16,18,-12,14],
  [6,18,-3,3,-4,6,-8,12,-10,14,-14,16,-16,18,-12,14],
  [7,18,-5,4,-6,8,-10,12,-12,14,-14,16,-14,16,-4,8],
  [8,17,-2,2,-4,4,-6,6,-10,14,-12,14,-12,14,-8,10],
  [9,16,-1,1,-2,2,-4,4,-6,6,-10,12,-10,10,-6,8,-2,4],
  [10,17,-3,2,-6,6,-8,8,-10,12,-6,8,-2,6],
  [11,14,-2,1,0,0,-8,6,-10,10,-12,12,-12,14,-8,12,-3,6],
  [12,14,-5,2,-8,3,-12,6,-12,8,-14,10,-12,10,-6,8,-2,2],
  [13,13,-3,1,-8,3,-12,6,-12,8,-14,8,-10,8,-4,3],
  [14,14,-6,3,-10,5,-12,6,-12,6,-8,4],
  [15,6,-3,0,-4,-1,-4,1,-3,0,-2,0,-4,1,-6,1,-8,2,-10,3,-10,4,-10,4,-10,4,-6,2],
  [16,12,-6,0,-8,2,-8,2,-6,2,-4,1],
  [17,0,-4,0],[17,8,-3,0,-4,0,-5,0,-5,0,-6,0,-4,0,-4,2],
  [18,0,-4,1,-2,0,-2,0,-2,0,-3,0,-3,0,-4,0,-4,0,-4,1,-5,0,-5,0,-4,0],
  [19,0,-4,1],[19,3,-2,0,-2,0,-3,0,-3,0,-4,0,-4,-1,-4,0,-4,0,-3,0,-2,0]
];

var svg = d3.select('body').append('svg').attr('width', 1218).attr('height', 757);
var defs = svg.append('defs');

function drawPanel(p) {
  var x = d3.scaleLinear().domain([2, 6]).range(p.xr);
  var y = d3.scaleLinear().domain([1, 7]).range(p.yr);
  var w = p.frame[2] - p.frame[0];
  var h = p.frame[3] - p.frame[1];
  var line = d3.line().x(function(d) { return x(d[0]); }).y(function(d) { return y(d[1]); });
  var closed = d3.line().x(function(d) { return x(d[0]); }).y(function(d) { return y(d[1]); }).curve(d3.curveLinearClosed);

  var g = svg.append('g');
  defs.append('clipPath').attr('id', 'frame-' + p.id)
      .append('rect').attr('x', p.frame[0]).attr('y', p.frame[1]).attr('width', w).attr('height', h);

  var plot = g.append('g').attr('clip-path', 'url(#frame-' + p.id + ')');

  var fill = plot.append('g');
  if (p.hull) {
    defs.append('clipPath').attr('id', 'hull-' + p.id).append('path').attr('d', closed(p.hull));
    fill.attr('clip-path', 'url(#hull-' + p.id + ')');
  }
  var fills = p.fills || p.colors;
  fill.selectAll('path').data(p.bands).enter().append('path')
      .attr('d', function(d) { return closed(d[1]); })
      .attr('fill', function(d) { return fills[d[0]]; });

  var diamond = function(d) {
    var cx = x(d[0]), cy = y(d[1]);
    return 'M' + cx + ',' + (cy - 4.2) + 'L' + (cx + 4.2) + ',' + cy + 'L' + cx + ',' + (cy + 4.2) + 'L' + (cx - 4.2) + ',' + cy + 'Z';
  };
  if (p.specks) {
    plot.selectAll('path.speck').data(p.specks).enter().append('path')
        .attr('class', 'speck').attr('d', diamond).attr('fill', p.speckColor);
  }
  if (p.holes) {
    plot.selectAll('path.hole').data(p.holes).enter().append('path')
        .attr('class', 'hole').attr('d', diamond).attr('fill', '#fff');
  }

  // lattice dots
  var dots = plot.append('g').attr('fill', '#000').attr('fill-opacity', 0.6);
  gridEps.forEach(function(e) {
    gridGamma.forEach(function(gm) {
      dots.append('circle').attr('cx', x(gm)).attr('cy', y(e)).attr('r', 0.6);
    });
  });

  if (p.lines) {
    plot.selectAll('path.contour').data(p.lines).enter().append('path')
        .attr('class', 'contour').attr('d', line)
        .attr('fill', 'none').attr('stroke', '#111').attr('stroke-width', 1.5);
  }
  if (p.paths) {
    plot.selectAll('path.sample').data(p.paths).enter().append('path')
        .attr('class', 'sample').attr('d', line)
        .attr('fill', 'none').attr('stroke', '#1ba8e4').attr('stroke-width', 1);
  }

  // quiver
  var arrows = [];
  p.arrows.forEach(function(row) {
    for (var i = 2, col = row[1]; i < row.length; i += 2, col++) {
      arrows.push([gridGamma[col], gridEps[row[0]], row[i], row[i + 1]]);
    }
  });
  plot.append('g').selectAll('path').data(arrows).enter().append('path')
      .attr('fill', '#000')
      .attr('d', function(d) {
        var x0 = x(d[0]), y0 = y(d[1]);
        var x1 = x(d[0] + d[2] / 100), y1 = y(d[1] + d[3] / 100);
        var dx = x1 - x0, dy = y1 - y0, len = Math.sqrt(dx * dx + dy * dy);
        if (len < 1) return null;
        var ux = dx / len, uy = dy / len, hl = Math.min(len, 5), hw = Math.min(2.6, 1.4 + len / 5), sw = 0.55;
        var bx = x1 - ux * hl, by = y1 - uy * hl;
        return 'M' + (x0 - uy * sw) + ',' + (y0 + ux * sw) +
            'L' + (bx - uy * sw) + ',' + (by + ux * sw) +
            'L' + (bx - uy * hw) + ',' + (by + ux * hw) +
            'L' + x1 + ',' + y1 +
            'L' + (bx + uy * hw) + ',' + (by - ux * hw) +
            'L' + (bx + uy * sw) + ',' + (by - ux * sw) +
            'L' + (x0 + uy * sw) + ',' + (y0 - ux * sw) + 'Z';
      });

  if (p.mean) {
    plot.append('path').attr('d', line.curve(d3.curveCatmullRom)(p.mean))
        .attr('fill', 'none').attr('stroke', '#00eeee').attr('stroke-width', 2.2);
    line.curve(d3.curveLinear);
  }

  // state boxes
  p.states.forEach(function(s) {
    var box = plot.append('g').attr('transform', 'translate(' + x(s[1]) + ',' + y(s[2]) + ')');
    box.append('rect').attr('x', -8.5).attr('y', -10).attr('width', 17).attr('height', 20)
        .attr('fill', '#fff').attr('stroke', '#222').attr('stroke-width', 0.8);
    box.append('text').attr('text-anchor', 'middle').attr('dy', '0.35em')
        .attr('font-weight', 'bold').style('font-family', '"DejaVu Sans", sans-serif').attr('font-size', 14).text(s[0]);
  });

  // frame
  g.append('rect').attr('x', p.frame[0]).attr('y', p.frame[1]).attr('width', w).attr('height', h)
      .attr('fill', 'none').attr('stroke', p.openRight ? 'none' : '#666').attr('stroke-width', 1.3);
  if (p.openRight) {
    g.append('path').attr('d', 'M' + p.frame[2] + ',' + p.frame[1] + 'H' + p.frame[0] + 'V' + p.frame[3] + 'H' + p.frame[2])
        .attr('fill', 'none').attr('stroke', '#666').attr('stroke-width', 1.3);
  }

  // axes
  var xAxis = d3.axisBottom(x).tickValues(xTicks).tickSize(3).tickPadding(4)
      .tickFormat(function(d, i) { return xTickLabels[i]; });
  var yAxis = d3.axisLeft(y).tickValues(yTicks).tickSize(3).tickPadding(4)
      .tickFormat(function(d, i) { return yTickLabels[i]; });
  [g.append('g').attr('transform', 'translate(0,' + p.frame[3] + ')').call(xAxis),
   g.append('g').attr('transform', 'translate(' + p.frame[0] + ',0)').call(yAxis)].forEach(function(a) {
    a.select('.domain').remove();
    a.selectAll('line').attr('stroke', '#444').attr('stroke-width', 0.8);
    a.selectAll('text').attr('font-size', 13).style('font-family', '"DejaVu Sans Mono", monospace').attr('fill', '#222');
  });

  // axis labels
  var xl = g.append('text').attr('x', p.xLabel[0]).attr('y', p.xLabel[1]).attr('text-anchor', 'middle')
      .attr('font-size', 15.5).attr('xml:space', 'preserve');
  xl.append('tspan').text('\u0393');
  xl.append('tspan').attr('dy', '-0.45em').attr('font-size', '0.8em').text('1/2');
  xl.append('tspan').attr('dy', '0.36em').text(' (' + p.km + ' km) [s');
  xl.append('tspan').attr('dy', '-0.36em').attr('font-size', '0.8em').text('\u22121');
  xl.append('tspan').attr('dy', '0.36em').text(']');

  var yl = g.append('text').attr('transform', 'translate(' + p.yLabel[0] + ',' + p.yLabel[1] + ') rotate(-90)')
      .attr('text-anchor', 'middle').attr('font-size', 15.5).attr('xml:space', 'preserve');
  yl.append('tspan').attr('font-style', 'italic').style('font-family', '"DejaVu Sans", sans-serif').text('\u2130');
  yl.append('tspan').attr('dy', '-0.45em').attr('font-size', '0.8em').text('1/2');
  yl.append('tspan').attr('dy', '0.36em').text(' (' + p.km + ' km) [s');
  yl.append('tspan').attr('dy', '-0.36em').attr('font-size', '0.8em').text('\u22121');
  yl.append('tspan').attr('dy', '0.36em').text(']');

  // panel letter
  g.append('text').attr('x', p.letter[0]).attr('y', p.letter[1]).attr('text-anchor', 'middle').attr('dy', '0.35em')
      .attr('font-weight', 'bold').attr('font-size', 18.5)
      .style('font-family', '"Liberation Mono", monospace').text(p.name);

  // colorbar
  var cb = d3.scaleLinear().domain(p.cbDomain).range([p.cb[0], p.cb[1]]);
  var n = p.colors.length;
  var bw = (p.cb[1] - p.cb[0]) / n;
  g.selectAll('rect.cell').data(p.colors).enter().append('rect').attr('class', 'cell')
      .attr('x', function(d, i) { return p.cb[0] + i * bw; }).attr('y', p.cb[2])
      .attr('width', bw + 0.3).attr('height', p.cb[3] - p.cb[2]).attr('fill', function(d) { return d; });
  g.append('rect').attr('x', p.cb[0]).attr('y', p.cb[2]).attr('width', p.cb[1] - p.cb[0]).attr('height', p.cb[3] - p.cb[2])
      .attr('fill', 'none').attr('stroke', '#333').attr('stroke-width', 0.8);
  p.cbTicks.forEach(function(t, i) {
    var tx = cb(t);
    g.append('line').attr('x1', tx).attr('x2', tx).attr('y1', p.cb[3]).attr('y2', p.cb[3] + 3).attr('stroke', '#666');
    var lab = g.append('text').attr('x', tx).attr('y', p.cbLabelY).attr('text-anchor', 'middle').attr('font-size', 13.5);
    if (p.isLog) {
      lab.append('tspan').text('10');
      lab.append('tspan').attr('dy', '-0.45em').attr('font-size', '0.72em').text('\u2212' + (-t));
    } else {
      lab.text(p.cbLabels[i]);
    }
  });

  // colorbar title
  var ti = g.append('text').attr('x', p.title[0]).attr('y', p.title[1]).attr('text-anchor', 'middle')
      .attr('font-size', 16).style('font-family', '"DejaVu Sans", sans-serif').attr('font-style', 'italic');
  if (p.isLog) {
    ti.text('A\u2192B');
  } else {
    ti.append('tspan').text('\u03b7');
    ti.append('tspan').attr('font-size', '0.72em').attr('dy', '0.35em').text('B');
    ti.append('tspan').attr('font-size', '0.72em').attr('dy', '-0.85em').attr('dx', '-0.5em').text('+');
    ti.append('tspan').attr('dy', '0.35em').attr('dx', '0.3em').text('(x)');
  }
}

var panels = [
  { id: 'a', name: '(a)', km: 10, frame: [98.3, 31.7, 405.7, 336], xr: [169.7, 333], yr: [305.3, 62.3],
    bands: bandsA, colors: colorsRateA, fills: fillsA, paths: pathsA, mean: meanA, arrows: arrowsA, holes: holesA,
    states: [['a', 5.81, .9], ['b', 4.64, 2.06]], xLabel: [253, 373], yLabel: [20, 182], letter: [73, 20],
    isLog: true, cb: [129.3, 374.3, 31.7, 40.7], cbDomain: [-10, -3], cbTicks: [-9, -7, -5, -3], cbLabelY: 60, title: [252, 26] },
  { id: 'b', name: '(b)', km: 20, frame: [519, 30.7, 820, 330], xr: [588.3, 749], yr: [300, 61.3],
    bands: bandsB, colors: colorsRateB, paths: pathsB, mean: meanB, arrows: arrowsB, holes: holesB,
    states: [['a', 6.39, .87], ['b', 1.98, 2.13]], xLabel: [670, 367], yLabel: [449, 178], letter: [489, 17],
    isLog: true, cb: [548.7, 789.7, 30.7, 39.7], cbDomain: [-9, -3], cbTicks: [-8, -6, -4, -3], cbLabelY: 58, title: [669, 25] },
  { id: 'c', name: '(c)', km: 30, frame: [925.7, 30.3, 1232, 325], xr: [994.7, 1153], yr: [296, 60.3],
    bands: bandsC, colors: colorsRateA, paths: pathsC, mean: meanC, arrows: arrowsC, holes: holesC, specks: specksC, speckColor: '#e5690f',
    states: [['a', 7.2, .7], ['b', 1.89, 2.46]], xLabel: [1075, 362], yLabel: [855, 177], letter: [894, 18],
    isLog: true, cb: [955.3, 1194, 30.3, 39.3], cbDomain: [-10, -3], cbTicks: [-9, -7, -5, -3], cbLabelY: 57, title: [1075, 25] },
  { id: 'd', name: '(d)', km: 10, frame: [96.7, 410.7, 400.7, 713.3], xr: [166.7, 329.3], yr: [684.3, 440.3],
    bands: bandsD, colors: colorsEtaD, lines: linesD, arrows: arrowsD, hull: hullD,
    states: [['a', 5.83, .91], ['b', 4.65, 2.07]], xLabel: [250, 752], yLabel: [19, 563], letter: [73, 402],
    isLog: false, cb: [126.7, 370, 410.7, 419.7], cbDomain: [0, 100], cbTicks: [0, 30, 60.8, 90.4], cbLabels: ['0', '30.0', '61.0', '91.0'], cbLabelY: 436, title: [248, 405] },
  { id: 'e', name: '(e)', km: 20, frame: [518.3, 409, 826, 715.7], xr: [588.7, 754.3], yr: [686, 439], openRight: true,
    bands: bandsE, colors: colorsEtaE, lines: linesE, arrows: arrowsE, hull: hullE,
    states: [['a', 6.41, .85], ['b', 1.96, 2.13]], xLabel: [672, 753], yLabel: [449, 561], letter: [488, 398],
    isLog: false, cb: [548.7, 795.7, 409, 418.3], cbDomain: [0, 89.5], cbTicks: [0, 28, 56, 84], cbLabels: ['0', '28.0', '56.0', '85.0'], cbLabelY: 435, title: [672, 403] },
  { id: 'f', name: '(f)', km: 30, frame: [922.7, 417.3, 1232, 716.7], xr: [992, 1153.3], yr: [688, 446.3],
    bands: bandsF, colors: colorsEtaE, lines: linesF, arrows: arrowsF, hull: hullF,
    states: [['a', 7.18, .7], ['b', 1.88, 2.48]], xLabel: [1073, 753], yLabel: [851, 568], letter: [899, 401],
    isLog: false, cb: [952.3, 1193.7, 417.3, 426.3], cbDomain: [0, 89.7], cbTicks: [0, 27, 54, 81], cbLabels: ['0', '27.0', '54.0', '81.0'], cbLabelY: 443, title: [1073, 410] }
];

panels.forEach(drawPanel);

// stray label left over in the figure
svg.append('text').attr('x', 51.5).attr('y', 319).attr('text-anchor', 'middle')
    .style('font-family', '"DejaVu Sans", sans-serif').attr('font-size', 15).attr('fill', '#222').text('(d)');
</script>
</body>
</html>
